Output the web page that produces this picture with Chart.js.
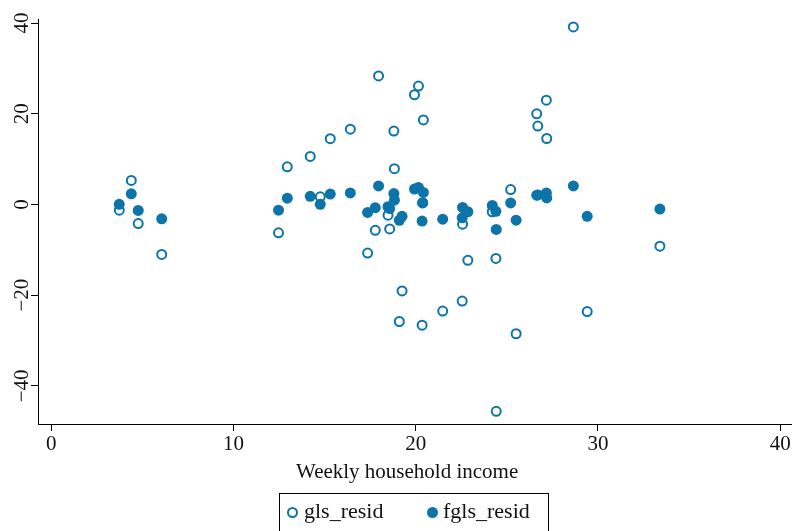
<!DOCTYPE html>
<html>
<head>
<meta charset="utf-8">
<script src="https://cdn.jsdelivr.net/npm/chart.js@4.4.0/dist/chart.umd.min.js"></script>
<style>
  html, body { margin: 0; padding: 0; background: #fff; }
  #wrap { position: relative; width: 792px; height: 531px; overflow: hidden; }
  #legend {
    position: absolute; left: 279px; top: 493px; width: 270px; height: 60px;
    border: 1px solid #000; box-sizing: border-box;
    font-family: 'Liberation Serif', 'DejaVu Serif', serif; font-size: 22px; color: #111;
  }
  #legend .mark { position: absolute; width: 11px; height: 11px; border-radius: 50%; box-sizing: border-box; top: 13px; }
  #legend .hollow { border: 2px solid #0d74a9; }
  #legend .filled { background: #0d74a9; }
  #legend .txt { position: absolute; top: 6px; line-height: 22px; white-space: nowrap; }
</style>
</head>
<body>
<div id="wrap">
  <canvas id="residChart" width="792" height="531"></canvas>
  <div id="legend">
    <span class="mark hollow" style="left:7px"></span><span class="txt" style="left:24px">gls_resid</span>
    <span class="mark filled" style="left:147px"></span><span class="txt" style="left:163px">fgls_resid</span>
  </div>
</div>
<script>
// === dữ liệu ===
const incomeX = [3.73, 4.39, 4.77, 6.06, 12.47, 12.95, 14.21, 14.76, 15.31, 16.41,
                 17.36, 17.78, 17.96, 18.48, 18.57, 18.80, 18.83, 19.10, 19.25, 19.93,
                 20.15, 20.35, 20.42, 20.38, 21.48, 22.55, 22.57, 22.86, 24.20, 24.40,
                 24.42, 25.21, 25.51, 26.64, 26.70, 27.17, 27.19, 28.65, 29.41, 33.40];
const glsResid = [-1.25, 5.3, -4.2, -11.0, -6.25, 8.3, 10.6, 1.7, 14.5, 16.6,
                  -10.7, -5.7, 28.35, -2.35, -5.4, 16.2, 7.9, -25.8, -19.05, 24.2,
                  26.1, -26.6, 18.65, 0.4, -23.5, -21.3, -4.35, -12.3, -1.6, -11.9,
                  -45.6, 3.3, -28.5, 20.0, 17.3, 23.0, 14.55, 39.15, -23.6, -9.2];
const fglsResid = [0.05, 2.35, -1.3, -3.15, -1.25, 1.4, 1.8, 0.05, 2.3, 2.55,
                   -1.75, -0.7, 4.1, -0.5, -0.9, 2.4, 0.95, -3.5, -2.6, 3.4,
                   3.75, -3.65, 2.65, 0.35, -3.25, -2.95, -0.65, -1.6, -0.2, -1.5,
                   -5.5, 0.35, -3.45, 2.05, 2.1, 2.55, 1.45, 4.1, -2.6, -1.0];
const xTicks = [0, 10, 20, 30, 40];
const yTicks = [-40, -20, 0, 20, 40];

const markColor = '#0d74a9';
const inkColor = '#111';
const serif = "'Liberation Serif', 'DejaVu Serif', serif";

const toPoints = (ys) => incomeX.map((x, i) => ({ x: x, y: ys[i] }));

// nhãn trục y xoay 90 độ (kiểu Stata)
const yLabelPlugin = {
    id: 'yLabels',
    afterDraw(chart) {
        const { ctx, scales: { y } } = chart;
        ctx.save();
        ctx.font = "21px 'Liberation Serif', 'DejaVu Serif', serif";
        ctx.fillStyle = inkColor;
        ctx.textAlign = 'center';
        ctx.textBaseline = 'middle';
        yTicks.forEach(v => {
            const py = y.getPixelForValue(v);
            ctx.save();
            ctx.translate(22, py);
            ctx.rotate(-Math.PI / 2);
            ctx.fillText(v < 0 ? '\u2212' + Math.abs(v) : String(v), 0, 0);
            ctx.restore();
        });
        ctx.restore();
    }
};

new Chart(document.getElementById('residChart'), {
    type: 'scatter',
    data: {
        datasets: [{
            label: 'gls_resid',
            data: toPoints(glsResid),
            pointStyle: 'circle',
            pointRadius: 4.5,
            borderWidth: 2,
            borderColor: markColor,
            backgroundColor: 'rgba(0,0,0,0)',
            order: 1
        }, {
            label: 'fgls_resid',
            data: toPoints(fglsResid),
            pointStyle: 'circle',
            pointRadius: 5.5,
            borderWidth: 0,
            borderColor: markColor,
            backgroundColor: markColor,
            order: 0
        }]
    },
    options: {
        responsive: false,
        animation: false,
        devicePixelRatio: 1,
        layout: { autoPadding: false, padding: { top: 19, right: 0, left: 0, bottom: 0 } },
        plugins: { legend: { display: false }, tooltip: { enabled: false } },
        scales: {
            x: {
                type: 'linear',
                min: -0.73,
                max: 40.65,
                afterBuildTicks: s => { s.ticks = xTicks.map(v => ({ value: v })); },
                afterFit: s => { s.height = 107; },
                grid: { drawOnChartArea: false, drawTicks: true, tickLength: 7, color: '#000', lineWidth: 1 },
                border: { display: true, color: '#000', width: 1 },
                ticks: { font: { family: serif, size: 21 }, color: inkColor, padding: 1, maxRotation: 0, autoSkip: false },
                title: {
                    display: true,
                    // khoảng trắng cuối để dịch tiêu đề sang trái một chút như bản gốc
                    text: 'Weekly household income\u00A0\u00A0\u00A0',
                    font: { family: serif, size: 21, lineHeight: 1 },
                    color: inkColor,
                    padding: { top: 0, bottom: 48 }
                }
            },
            y: {
                type: 'linear',
                min: -48.4,
                max: 40.9,
                afterBuildTicks: s => { s.ticks = yTicks.map(v => ({ value: v })); },
                afterFit: s => { s.width = 38; },
                grid: { drawOnChartArea: false, drawTicks: true, tickLength: 7, color: '#000', lineWidth: 1 },
                border: { display: true, color: '#000', width: 1 },
                ticks: { display: false }
            }
        }
    },
    plugins: [yLabelPlugin]
});
</script>
</body>
</html>
